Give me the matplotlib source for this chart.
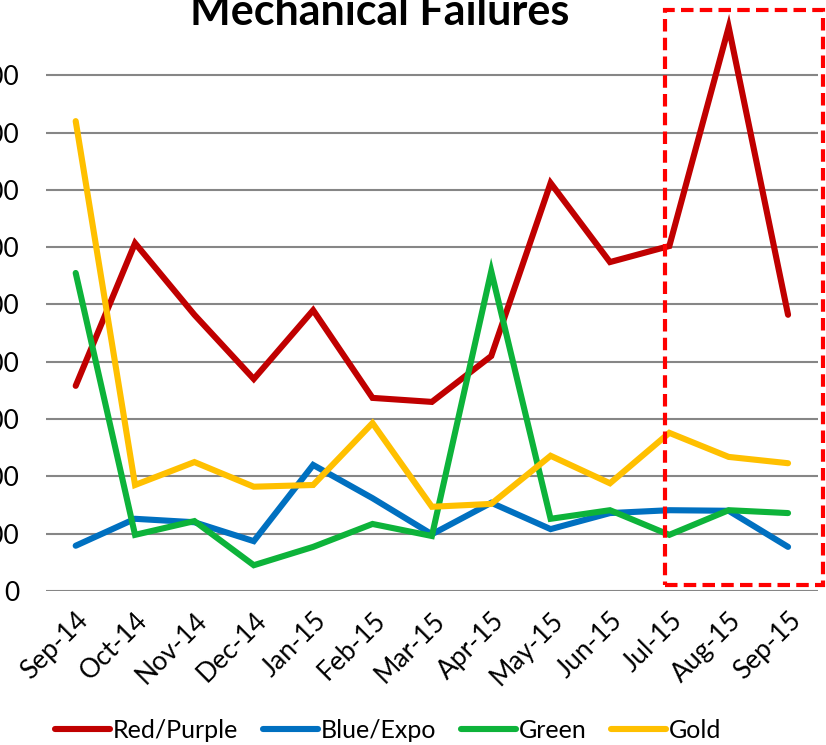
import matplotlib
matplotlib.use('Agg')
import matplotlib.pyplot as plt
from matplotlib.patches import Rectangle

plt.rcParams['font.family'] = ['Lato', 'DejaVu Sans']

# Data
months = ['Sep-14', 'Oct-14', 'Nov-14', 'Dec-14', 'Jan-15', 'Feb-15', 'Mar-15',
          'Apr-15', 'May-15', 'Jun-15', 'Jul-15', 'Aug-15', 'Sep-15']
red_purple = [358, 607, 482, 370, 490, 337, 330, 410, 712, 574, 602, 984, 482]
blue_expo = [79, 126, 120, 87, 220, 162, 99, 154, 108, 136, 141, 140, 77]
green = [555, 98, 122, 45, 77, 117, 96, 558, 126, 141, 98, 141, 136]
gold = [820, 185, 225, 182, 185, 293, 147, 152, 236, 188, 276, 234, 223]
y_ticks = [0, 100, 200, 300, 400, 500, 600, 700, 800, 900]

series = [
    ('Red/Purple', red_purple, '#C00000'),
    ('Blue/Expo', blue_expo, '#0070C0'),
    ('Green', green, '#0DB33A'),
    ('Gold', gold, '#FFC000'),
]

fig = plt.figure(figsize=(8.26, 7.45), dpi=100)
ax = fig.add_axes([0.0557, 0.2067, 0.9343, 0.7615])

x = range(len(months))
for name, vals, col in series:
    ax.plot(x, vals, color=col, linewidth=4.4, label=name,
            solid_capstyle='round', solid_joinstyle='miter', clip_on=False, zorder=3)

ax.set_xlim(-0.5, len(months) - 0.5)
ax.set_ylim(0, 990)
ax.set_yticks(y_ticks)
ax.set_yticklabels([str(v) for v in y_ticks], fontsize=19)
ax.set_xticks(list(x))
ax.set_xticklabels(months, fontsize=19, rotation=45, ha='right',
                   rotation_mode='anchor')
ax.tick_params(axis='both', length=0)
ax.tick_params(axis='y', pad=19)
ax.tick_params(axis='x', pad=12)

ax.grid(axis='y', color='#868686', linewidth=1.5, zorder=0)
for side in ['top', 'right', 'left', 'bottom']:
    ax.spines[side].set_visible(False)
ax.axhline(0, color='#868686', linewidth=1.8, zorder=1)

fig.text(380 / 826, 1 - 25 / 745, 'Mechanical Failures', ha='center',
         va='baseline', fontsize=31, fontweight='bold')

# dashed highlight box
fig.patches.append(Rectangle((665 / 826, 1 - 585 / 745), 158 / 826, 575 / 745,
                             transform=fig.transFigure, fill=False,
                             edgecolor='#FF0000', linewidth=3,
                             linestyle=(0, (3, 1.5)), zorder=5))

fig.legend(loc='center', bbox_to_anchor=(388 / 826, 1 - 730 / 745), ncol=4,
           frameon=False, fontsize=18, handlelength=2.2, handletextpad=0.1,
           columnspacing=1.0)

fig.savefig('out.png', dpi=100)
